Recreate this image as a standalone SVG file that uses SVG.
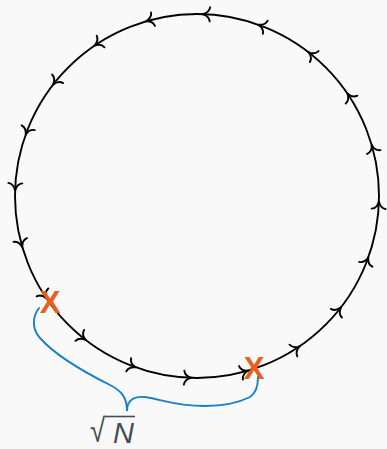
<svg xmlns="http://www.w3.org/2000/svg" width="387" height="449" viewBox="0 0 387 449">
<style>
.ring{fill:none;stroke:#000;stroke-width:1.9}
.ah{fill:none;stroke:#000;stroke-width:1.9;stroke-linecap:round;stroke-linejoin:round}
.brace{fill:none;stroke:#1a80c8;stroke-width:1.9;stroke-linecap:round}
.mark{font-family:"Liberation Sans",Arial,sans-serif;font-weight:bold;font-size:31px;fill:#e8601c;text-anchor:middle}
.lbl{font-family:"Liberation Sans",Arial,sans-serif;font-size:29px;fill:#404e57}
</style>
<defs>
<path id="ah" class="ah" d="M -6.5,-7 C -6,-3.5 -3.5,-1 1,0 C -3.5,1 -6,3.5 -6.5,7"/>
</defs>
<rect x="0" y="0" width="387" height="449" fill="#f9f9f9"/>
<g id="ring">
<circle class="ring" cx="197" cy="196" r="182"/>
</g>
<g id="connectors">
<use href="#ah" transform="translate(378.9,202.4) rotate(-88)"/>
<use href="#ah" transform="translate(372.0,145.8) rotate(-106)"/>
<use href="#ah" transform="translate(347.9,94.2) rotate(-124)"/>
<use href="#ah" transform="translate(309.1,52.6) rotate(-142)"/>
<use href="#ah" transform="translate(259.2,25.0) rotate(-160)"/>
<use href="#ah" transform="translate(203.4,14.1) rotate(-178)"/>
<use href="#ah" transform="translate(146.8,21.0) rotate(-196)"/>
<use href="#ah" transform="translate(95.2,45.1) rotate(-214)"/>
<use href="#ah" transform="translate(53.6,83.9) rotate(-232)"/>
<use href="#ah" transform="translate(26.0,133.8) rotate(-250)"/>
<use href="#ah" transform="translate(15.1,189.6) rotate(-268)"/>
<use href="#ah" transform="translate(22.0,246.2) rotate(-286)"/>
<use href="#ah" transform="translate(46.1,297.8) rotate(-304)"/>
<use href="#ah" transform="translate(84.9,339.4) rotate(-322)"/>
<use href="#ah" transform="translate(134.8,367.0) rotate(-340)"/>
<use href="#ah" transform="translate(190.6,377.9) rotate(-358)"/>
<use href="#ah" transform="translate(247.2,371.0) rotate(-376)"/>
<use href="#ah" transform="translate(298.8,346.9) rotate(-394)"/>
<use href="#ah" transform="translate(340.4,308.1) rotate(-412)"/>
<use href="#ah" transform="translate(368.0,258.2) rotate(-430)"/>
</g>
<g id="brace">
<path class="brace" d="M 39,308 C 33,316 31,328 40,338 C 55,355 80,370 110,385 C 122,391 127,398 127,411 C 127,400 134,396 145,397 C 160,399 175,406 205,406 C 225,406 240,402 250,397 C 256,393 258,386 258,377"/>
</g>
<g id="x1"><text class="mark" x="50" y="313">X</text></g>
<g id="x2"><text class="mark" x="254" y="379">X</text></g>
<g id="label">
<text class="lbl" transform="translate(90,442) scale(0.95,1.15)">√</text>
<text class="lbl" x="113" y="443" font-style="italic">N</text>
<line x1="105" y1="416.5" x2="135" y2="416.5" stroke="#404e57" stroke-width="1.6"/>
</g>
</svg>
